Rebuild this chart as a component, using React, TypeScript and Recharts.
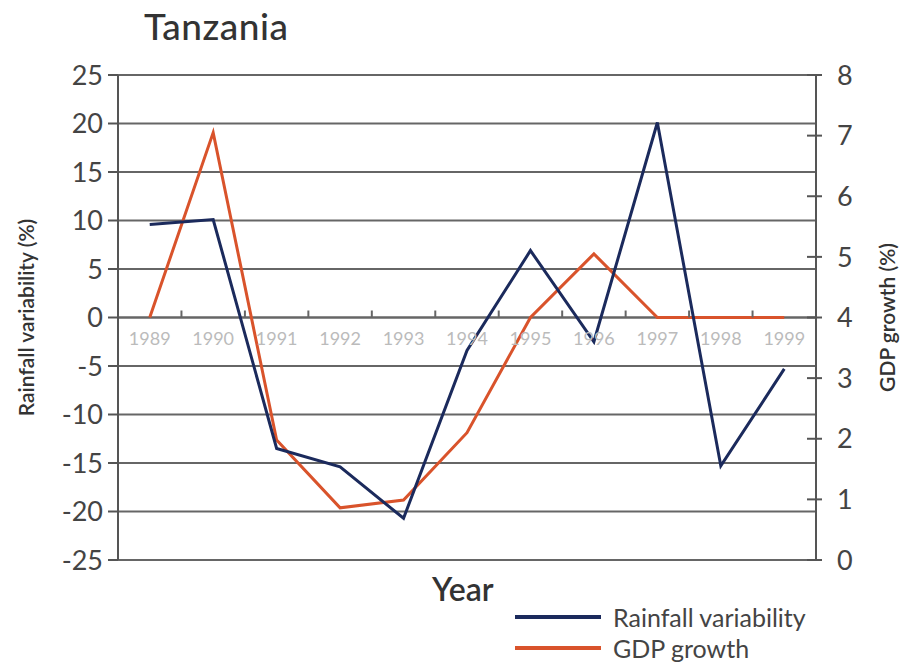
import React from 'react';
import { LineChart, Line, XAxis, YAxis, CartesianGrid, ReferenceLine } from 'recharts';

const years = ['1989', '1990', '1991', '1992', '1993', '1994', '1995', '1996', '1997', '1998', '1999'];
const rainfall = [9.6, 10.1, -13.5, -15.4, -20.7, -3.4, 6.9, -2.5, 20.1, -15.3, -5.3];
const gdp = [4.0, 7.05, 1.98, 0.86, 0.99, 2.1, 4.0, 5.05, 4.0, 4.0, 4.0];
const leftTicks = [25, 20, 15, 10, 5, 0, -5, -10, -15, -20, -25];
const rightTicks = [0, 1, 2, 3, 4, 5, 6, 7, 8];

const data = years.map((y, i) => ({ year: y, rain: rainfall[i], gdp: gdp[i] }));

const W = 900;
const H = 664;
const PLOT_L = 118;
const PLOT_R = 816;
const PLOT_T = 75;
const PLOT_B = 560;
const PLOT_H = PLOT_B - PLOT_T;
const BAND = (PLOT_R - PLOT_L) / years.length;
const ZERO_Y = PLOT_T + PLOT_H / 2;
const FONT = 'Lato, sans-serif';
const BLUE = '#1b2a5c';
const ORANGE = '#d9532b';

const LeftTick = (props: any) => {
  const { x, y, payload } = props;
  return (
    <g>
      <line x1={x - 10} x2={x} y1={y} y2={y} stroke="#555" strokeWidth={2} />
      <text x={x - 15} y={y} dy="0.36em" textAnchor="end" fontSize={27} fill="#444" fontFamily={FONT}>
        {payload.value}
      </text>
    </g>
  );
};

const RightTick = (props: any) => {
  const { x, y, payload } = props;
  return (
    <g>
      <line x1={x - 9} x2={x + 6} y1={y} y2={y} stroke="#555" strokeWidth={2} />
      <text x={x + 21} y={y} dy="0.36em" textAnchor="start" fontSize={27} fill="#444" fontFamily={FONT}>
        {payload.value}
      </text>
    </g>
  );
};

const XTick = (props: any) => {
  const { x, payload, index } = props;
  return (
    <g>
      {index > 0 && (
        <line x1={x - BAND / 2} x2={x - BAND / 2} y1={ZERO_Y} y2={ZERO_Y - 7} stroke="#666" strokeWidth={2} />
      )}
      <text x={x} y={ZERO_Y + 27} textAnchor="middle" fontSize={18} fill="#bbb" fontFamily={FONT}>
        {payload.value}
      </text>
    </g>
  );
};

export default function App() {
  return (
    <div style={{ position: 'absolute', left: 0, top: 0, width: W, height: H, background: '#fff' }}>
      <div
        style={{
          position: 'absolute',
          left: 144,
          top: 3,
          fontFamily: FONT,
          fontSize: 37,
          color: '#333',
          fontWeight: 500,
          letterSpacing: 0.5,
        }}
      >
        Tanzania
      </div>
      <LineChart
        width={W}
        height={H}
        data={data}
        margin={{ top: PLOT_T, right: 0, bottom: H - PLOT_B - 30, left: 0 }}
      >
        <CartesianGrid yAxisId="left" vertical={false} stroke="#666" strokeWidth={2} />
        <XAxis
          dataKey="year"
          scale="band"
          interval={0}
          height={30}
          axisLine={false}
          tickLine={false}
          tick={<XTick />}
        />
        <YAxis
          yAxisId="left"
          orientation="left"
          width={PLOT_L}
          domain={[-25, 25]}
          ticks={leftTicks}
          interval={0}
          tickSize={0}
          tickMargin={0}
          tickLine={false}
          axisLine={{ stroke: '#555', strokeWidth: 2 }}
          tick={<LeftTick />}
          label={{
            value: 'Rainfall variability (%)',
            angle: -90,
            position: 'insideLeft',
            offset: 27,
            style: { textAnchor: 'middle', fontSize: 21, fill: '#333', fontFamily: FONT, fontWeight: 600 },
          }}
        />
        <YAxis
          yAxisId="right"
          orientation="right"
          width={W - PLOT_R}
          domain={[0, 8]}
          ticks={rightTicks}
          interval={0}
          tickSize={0}
          tickMargin={0}
          tickLine={false}
          axisLine={{ stroke: '#555', strokeWidth: 2 }}
          tick={<RightTick />}
          label={{
            value: 'GDP growth (%)',
            angle: -90,
            position: 'insideRight',
            offset: 12,
            style: { textAnchor: 'middle', fontSize: 21, fill: '#333', fontFamily: FONT, fontWeight: 600 },
          }}
        />
        <ReferenceLine yAxisId="left" y={0} stroke="#666" strokeWidth={2} />
        <Line
          yAxisId="right"
          dataKey="gdp"
          name="GDP growth"
          stroke={ORANGE}
          strokeWidth={3}
          dot={false}
          isAnimationActive={false}
          strokeLinejoin="miter"
        />
        <Line
          yAxisId="left"
          dataKey="rain"
          name="Rainfall variability"
          stroke={BLUE}
          strokeWidth={3}
          dot={false}
          isAnimationActive={false}
          strokeLinejoin="miter"
        />
      </LineChart>
      <div
        style={{
          position: 'absolute',
          left: 432,
          top: 569,
          fontFamily: FONT,
          fontSize: 32,
          color: '#333',
          fontWeight: 600,
        }}
      >
        Year
      </div>
      <div style={{ position: 'absolute', left: 515, top: 601, fontFamily: FONT, fontSize: 25, color: '#444' }}>
        <div style={{ display: 'flex', alignItems: 'center', height: 31 }}>
          <div style={{ width: 86, height: 4, background: BLUE, marginRight: 12 }} />
          <span>Rainfall variability</span>
        </div>
        <div style={{ display: 'flex', alignItems: 'center', height: 31 }}>
          <div style={{ width: 86, height: 4, background: ORANGE, marginRight: 12 }} />
          <span>GDP growth</span>
        </div>
      </div>
    </div>
  );
}
